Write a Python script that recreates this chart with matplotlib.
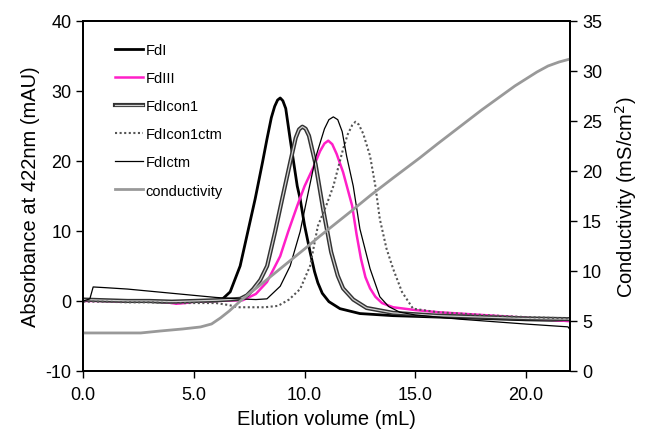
import matplotlib
matplotlib.use('Agg')
import matplotlib.pyplot as plt
import matplotlib.patheffects as pe

# 용출 데이터
x_fdi = [0, 1, 2, 3, 4, 5, 6, 6.3, 6.64, 7.09, 7.77, 8.1, 8.3, 8.5, 8.65, 8.78, 8.9, 9.02, 9.15, 9.35, 9.67, 9.8, 10.0, 10.25, 10.45, 10.6, 10.8, 11.1, 11.6, 12.5, 14, 16, 18, 20, 22]
y_fdi = [0.1, 0.0, 0.0, -0.1, -0.2, -0.1, 0.0, 0.3, 1.3, 5.0, 14.6, 19.8, 23.1, 26.2, 27.8, 28.7, 29.0, 28.6, 27.5, 23.1, 16.4, 14.6, 10.8, 7.0, 4.2, 2.6, 1.1, -0.1, -1.1, -1.8, -2.1, -2.3, -2.5, -2.7, -2.8]

x_fdiii = [0, 1, 2, 3, 3.8, 4.2, 4.6, 5, 6, 7.2, 7.8, 8.3, 8.9, 9.26, 9.67, 10.0, 10.4, 10.7, 10.9, 11.07, 11.25, 11.45, 11.74, 12.15, 12.35, 12.55, 12.75, 12.96, 13.2, 13.5, 14, 15, 16, 18, 20, 22]
y_fdiii = [0.0, 0.0, -0.1, 0.0, -0.2, -0.4, -0.3, -0.1, 0.0, 0.1, 1.0, 2.7, 6.4, 9.9, 13.6, 16.4, 19.1, 21.4, 22.5, 22.9, 22.4, 21.0, 18.4, 13.6, 9.5, 6.0, 3.4, 1.8, 0.6, -0.3, -0.9, -1.3, -1.6, -2.0, -2.4, -2.9]

x_con1 = [0, 1, 2, 3, 4, 5, 6, 6.6, 7.09, 7.4, 7.68, 8.0, 8.31, 8.67, 8.99, 9.4, 9.6, 9.75, 9.9, 10.05, 10.2, 10.5, 10.84, 11.2, 11.5, 11.74, 12.2, 12.8, 14, 16, 18, 20, 22]
y_con1 = [0.2, 0.1, 0.0, 0.0, -0.1, 0.0, 0.1, 0.2, 0.3, 0.8, 1.7, 3.0, 5.0, 9.9, 14.6, 20.5, 23.3, 24.5, 24.9, 24.6, 23.6, 19.5, 13.1, 7.0, 3.6, 1.8, 0.2, -1.0, -1.7, -2.1, -2.3, -2.5, -2.6]

x_con1ctm = [0, 1, 2, 3, 4, 5, 6, 6.6, 7.0, 7.5, 8.2, 8.8, 9.3, 9.8, 10.25, 10.6, 11.0, 11.3, 11.74, 11.95, 12.15, 12.3, 12.45, 12.65, 12.96, 13.2, 13.4, 13.7, 14.0, 14.4, 14.9, 16, 18, 20, 22]
y_con1ctm = [-0.1, -0.1, -0.2, -0.2, -0.3, -0.3, -0.3, -0.6, -0.9, -0.9, -0.9, -0.7, 0.2, 1.7, 5.0, 10.7, 13.8, 16.4, 21.7, 23.8, 25.1, 25.6, 25.2, 23.9, 20.7, 16.4, 11.7, 7.5, 4.6, 1.3, -1.1, -1.6, -2.0, -2.3, -2.5]

x_ctm = [0, 0.3, 0.45, 1.0, 2, 3, 4, 5, 6, 7, 7.8, 8.3, 8.9, 9.35, 9.8, 10.1, 10.5, 10.9, 11.1, 11.3, 11.5, 11.7, 11.9, 12.2, 12.5, 12.96, 13.4, 13.8, 14.3, 15, 17, 20, 21.9, 22]
y_ctm = [0.0, 0.3, 2.0, 1.9, 1.7, 1.4, 1.1, 0.8, 0.5, 0.3, 0.2, 0.3, 2.1, 5.0, 9.9, 14.5, 20.5, 24.6, 25.9, 26.3, 25.9, 24.2, 20.7, 16.4, 10.3, 4.6, 0.6, -0.8, -1.6, -2.0, -2.6, -3.3, -3.7, -4.1]

x_cond = [0, 1, 2, 2.6, 3.5, 4.5, 5.3, 5.8, 6.2, 6.6, 7.1, 7.6, 8, 9, 10, 10.7, 12.06, 13, 14, 15.2, 16, 17, 18, 19, 19.5, 20, 20.5, 21, 21.5, 22]
y_cond = [3.8, 3.8, 3.8, 3.8, 4.0, 4.2, 4.4, 4.7, 5.3, 6.0, 7.0, 7.9, 8.6, 10.4, 12.2, 13.5, 15.9, 17.6, 19.3, 21.3, 22.7, 24.4, 26.1, 27.7, 28.5, 29.2, 29.9, 30.5, 30.9, 31.2]

plt.rcParams['font.family'] = ['Liberation Sans', 'DejaVu Sans']
plt.rcParams['axes.unicode_minus'] = False
plt.rcParams['lines.solid_joinstyle'] = 'round'

fig = plt.figure(figsize=(6.45, 4.31), dpi=100)
ax = fig.add_axes([0.129, 0.137, 0.755, 0.812])
ax2 = ax.twinx()

h1, = ax.plot(x_fdi, y_fdi, color='black', lw=2.0, label='FdI')
h2, = ax.plot(x_fdiii, y_fdiii, color='#ff1fc8', lw=1.8, label='FdIII')
h3, = ax.plot(x_con1, y_con1, color='#d0d0d0', lw=0.9, label='FdIcon1',
              path_effects=[pe.Stroke(linewidth=3.0, foreground='#333333'), pe.Normal()])
h4, = ax.plot(x_con1ctm, y_con1ctm, color='#555555', lw=1.5, ls=(0, (1, 1.2)), label='FdIcon1ctm')
h5, = ax.plot(x_ctm, y_ctm, color='black', lw=0.9, label='FdIctm')
h6, = ax2.plot(x_cond, y_cond, color='#999999', lw=2.0, label='conductivity')

ax.set_xlim(0, 22)
ax.set_ylim(-10, 40)
ax2.set_ylim(0, 35)
ax.set_xticks([0, 5, 10, 15, 20])
ax.set_xticklabels(['0.0', '5.0', '10.0', '15.0', '20.0'])
ax.set_yticks([-10, 0, 10, 20, 30, 40])
ax2.set_yticks([0, 5, 10, 15, 20, 25, 30, 35])

for a in (ax, ax2):
    a.tick_params(direction='out', length=5, width=1.0, labelsize=13)
    for s in a.spines.values():
        s.set_linewidth(1.3)
ax.tick_params(axis='x', pad=6)

ax.set_xlabel('Elution volume (mL)', fontsize=14.5, labelpad=4)
ax.set_ylabel('Absorbance at 422nm (mAU)', fontsize=14.5, labelpad=4)
ax2.set_ylabel('Conductivity (mS/cm$^2$)', fontsize=14.5, labelpad=8)

leg = ax2.legend(handles=[h1, h2, h3, h4, h5, h6], loc='upper left', bbox_to_anchor=(0.038, 0.975),
                 frameon=False, fontsize=10.5, handlelength=1.9, handletextpad=0.2, labelspacing=0.97)

plt.savefig('out.png', dpi=100)
